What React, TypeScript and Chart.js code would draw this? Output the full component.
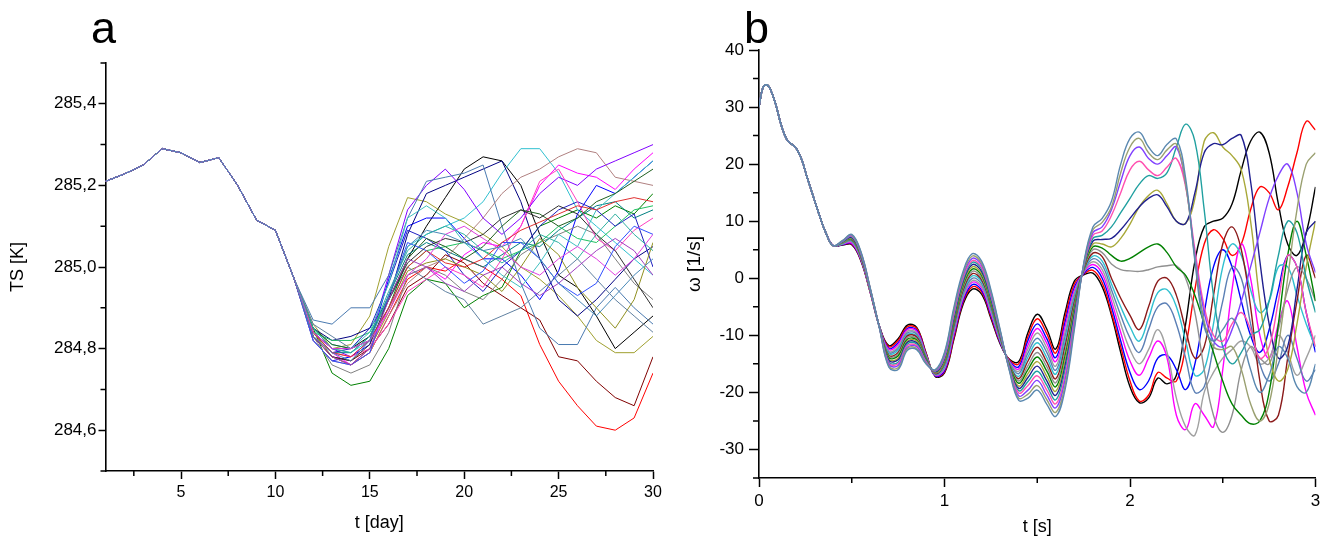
import React, { useEffect, useRef } from 'react';
import { Chart, registerables } from 'chart.js';

Chart.register(...registerables);

const FONT = '"Liberation Sans", Arial, sans-serif';

// ---------------- panel a : TS [K] vs t [day] ----------------
const days = [1, 2, 3, 4, 5, 6, 7, 8, 9, 10, 11, 12, 13, 14, 15, 16, 17, 18, 19, 20, 21, 22, 23, 24, 25, 26, 27, 28, 29, 30];
// days 1..11 (all members practically identical)
const tsStart = [285.21, 285.228, 285.25, 285.29, 285.28, 285.256, 285.268, 285.2, 285.115, 285.09, 284.97];
// days 12..30 per ensemble member
const ts01 = [284.84, 284.80, 284.80, 284.83, 284.92, 285.02, 285.10, 285.17, 285.24, 285.27, 285.26, 285.20, 285.08, 284.98, 284.95, 284.88, 284.80, 284.84, 284.88];
const ts02 = [284.83, 284.78, 284.76, 284.79, 284.88, 284.97, 285.00, 284.99, 285.02, 285.00, 284.97, 284.93, 284.81, 284.72, 284.66, 284.61, 284.60, 284.63, 284.74];
const ts03 = [284.85, 284.74, 284.71, 284.72, 284.80, 284.93, 284.97, 284.96, 284.90, 284.93, 284.95, 285.04, 285.10, 285.12, 285.14, 285.12, 285.15, 285.13, 285.18];
const ts04 = [284.82, 284.77, 284.78, 284.81, 284.97, 285.10, 285.12, 285.12, 285.07, 285.02, 285.02, 284.98, 284.92, 284.99, 285.13, 285.20, 285.18, 285.22, 285.26];
const ts05 = [284.85, 284.80, 284.79, 284.82, 284.93, 285.05, 285.08, 285.10, 285.12, 285.16, 285.23, 285.29, 285.29, 285.23, 285.14, 285.10, 285.06, 285.02, 284.98];
const ts06 = [284.84, 284.79, 284.76, 284.80, 284.90, 284.98, 285.00, 284.97, 285.03, 285.06, 285.05, 285.10, 285.20, 285.25, 285.23, 285.22, 285.19, 285.24, 285.28];
const ts07 = [284.86, 284.80, 284.81, 284.88, 285.05, 285.17, 285.16, 285.13, 285.11, 285.08, 285.05, 285.00, 284.97, 284.93, 284.88, 284.82, 284.79, 284.79, 284.83];
const ts08 = [284.83, 284.78, 284.77, 284.80, 284.86, 284.95, 284.98, 285.03, 285.01, 284.96, 284.93, 284.90, 284.87, 284.78, 284.77, 284.72, 284.68, 284.66, 284.78];
const ts09 = [284.85, 284.82, 284.83, 284.85, 284.92, 285.08, 285.18, 285.20, 285.22, 285.24, 285.26, 285.16, 285.02, 284.92, 284.88, 284.92, 284.97, 285.02, 285.05];
const ts10 = [284.84, 284.80, 284.78, 284.82, 284.98, 285.14, 285.20, 285.24, 285.19, 285.12, 285.08, 285.12, 285.18, 285.22, 285.20, 285.24, 285.26, 285.28, 285.30];
const ts11 = [284.87, 284.86, 284.90, 284.90, 284.98, 285.12, 285.21, 285.22, 285.23, 285.25, 285.10, 284.96, 284.85, 284.81, 284.81, 284.90, 284.95, 284.90, 284.86];
const ts12 = [284.83, 284.76, 284.74, 284.76, 284.84, 284.98, 285.00, 284.98, 284.94, 284.92, 284.97, 285.03, 285.06, 285.08, 285.10, 285.08, 285.02, 284.96, 284.92];
const ts13 = [284.84, 284.79, 284.79, 284.83, 284.93, 285.03, 285.06, 285.04, 285.02, 285.00, 285.03, 285.06, 285.05, 285.09, 285.12, 285.15, 285.16, 285.12, 285.14];
const ts14 = [284.82, 284.77, 284.76, 284.79, 284.88, 284.96, 285.00, 285.02, 285.07, 285.12, 285.18, 285.22, 285.24, 285.27, 285.29, 285.28, 285.22, 285.21, 285.20];
const ts15 = [284.84, 284.82, 284.82, 284.84, 284.92, 285.00, 285.04, 285.05, 285.06, 285.04, 285.02, 285.04, 285.06, 285.10, 285.07, 285.06, 285.10, 285.14, 285.15];
const ts16 = [284.83, 284.79, 284.80, 284.85, 284.96, 285.09, 285.07, 285.04, 284.98, 284.94, 285.00, 285.04, 285.10, 285.14, 285.16, 285.14, 285.10, 285.13, 285.00];
const ts17 = [284.85, 284.81, 284.80, 284.84, 284.96, 285.12, 285.15, 285.12, 285.06, 285.02, 284.98, 284.95, 285.01, 285.08, 285.05, 285.14, 285.18, 285.22, 285.26];
const ts18 = [284.83, 284.79, 284.78, 284.80, 284.86, 284.94, 284.97, 285.00, 284.98, 284.95, 285.02, 285.10, 285.21, 285.24, 285.16, 285.07, 285.04, 285.09, 285.12];
const ts19 = [284.84, 284.78, 284.76, 284.80, 284.89, 284.99, 285.01, 285.02, 285.00, 284.98, 284.94, 285.00, 285.07, 285.03, 284.95, 284.90, 284.85, 284.92, 285.06];
const ts20 = [284.85, 284.81, 284.80, 284.82, 284.90, 285.02, 285.07, 285.05, 285.02, 285.05, 285.10, 285.14, 285.13, 285.10, 285.12, 285.16, 285.18, 285.21, 285.24];
const ts21 = [284.82, 284.77, 284.76, 284.79, 284.93, 285.06, 285.04, 285.00, 284.96, 284.99, 285.06, 285.06, 285.02, 284.96, 284.93, 284.96, 285.05, 285.10, 285.08];
const ts22 = [284.86, 284.83, 284.80, 284.82, 284.90, 285.00, 284.97, 284.94, 284.92, 284.86, 284.88, 284.90, 284.94, 284.98, 285.02, 284.97, 284.92, 284.88, 284.84];
const ts23 = [284.83, 284.78, 284.77, 284.81, 284.92, 285.01, 285.05, 285.07, 285.06, 285.08, 285.12, 285.14, 285.12, 285.15, 285.13, 285.08, 285.04, 284.97, 284.90];
const ts24 = [284.84, 284.79, 284.78, 284.82, 284.90, 285.00, 285.04, 285.01, 285.00, 285.02, 285.06, 285.09, 285.11, 285.13, 285.15, 285.14, 285.16, 285.17, 285.16];
const ts25 = [284.83, 284.78, 284.76, 284.80, 284.92, 285.02, 285.00, 284.96, 284.94, 284.98, 285.00, 284.96, 284.93, 284.96, 285.00, 285.04, 285.07, 285.04, 284.98];
const ts26 = [284.85, 284.80, 284.79, 284.83, 284.94, 285.04, 285.08, 285.10, 285.08, 285.04, 285.01, 285.04, 285.08, 285.06, 285.02, 285.08, 285.13, 285.08, 285.04];
const ts27 = [284.84, 284.80, 284.80, 284.82, 284.89, 284.98, 285.02, 285.08, 285.10, 285.07, 285.04, 285.00, 284.98, 285.02, 285.05, 285.02, 284.98, 285.02, 285.08];
const ts28 = [284.83, 284.79, 284.77, 284.82, 284.93, 285.05, 285.09, 285.08, 285.06, 285.04, 285.05, 285.07, 285.02, 284.96, 284.92, 284.88, 284.93, 284.98, 285.02];

const tsMembers = [ts01, ts02, ts03, ts04, ts05, ts06, ts07, ts08, ts09, ts10, ts11, ts12, ts13, ts14, ts15, ts16, ts17, ts18, ts19, ts20, ts21, ts22, ts23, ts24, ts25, ts26, ts27, ts28];
const tsColors = ['#000000', '#ff0000', '#008000', '#0000ff', '#30c0d0', '#ff00ff', '#a0a030', '#800000', '#000080', '#8000ff', '#4a7ab0', '#808080', '#008080', '#b08080', '#20c060', '#2020c0', '#40c0c0', '#ff40c0', '#909020', '#206020', '#3050ff', '#6080a0', '#303030', '#e03030', '#a040c0', '#30b0a0', '#e040e0', '#4a8ab8'];

const tsTicks = [284.6, 284.8, 285.0, 285.2, 285.4];
const tsMinor = [284.5, 284.7, 284.9, 285.1, 285.3, 285.5];
const dayTicks = [5, 10, 15, 20, 25, 30];
const dayMinor = [2.5, 7.5, 12.5, 17.5, 22.5, 27.5];

// ---------------- panel b : omega [1/s] vs t [s] ----------------
const tStart = [0, 0.02, 0.04, 0.06, 0.09, 0.12, 0.15, 0.18, 0.2, 0.23, 0.26, 0.3, 0.33, 0.36, 0.4];
const wStart = [30, 33.3, 33.9, 33.2, 30.5, 26.8, 24.3, 23.4, 22.8, 20.8, 17.6, 13.6, 10.6, 8.0, 5.7];
const tB = [0.45, 0.5, 0.55, 0.6, 0.65, 0.7, 0.75, 0.8, 0.85, 0.9, 0.95, 1.0, 1.05, 1.1, 1.15, 1.2, 1.25, 1.3, 1.35, 1.4, 1.45, 1.5, 1.55, 1.6, 1.65, 1.7, 1.75, 1.8, 1.85,
  1.9, 1.95, 2.0, 2.05, 2.1, 2.15, 2.2, 2.25, 2.3, 2.35, 2.4, 2.45, 2.5, 2.55, 2.6, 2.65, 2.7, 2.75, 2.8, 2.85, 2.9, 2.95, 3.0];

const w00 = [5.8, 5.9, 3.0, -2.5, -8.5, -11.8, -10.6, -8.2, -8.6, -13.0, -17.2, -16.6, -10.8, -4.6, -1.9, -2.8, -7.0, -11.5, -14.2, -14.6, -9.5, -6.3, -8.8, -12.4, -6.0, -0.5, 0.6, 0.9, -1.5,
  -6.5, -13, -19, -21.8, -21, -17.5, -18.5, -17, -8, 3, 9, 10, 10.5, 13, 19, 24, 25.6, 22, 13, 6, 4, 8, 16];
const w01 = [5.9, 6.0, 3.1, -2.5, -8.5, -12.0, -10.9, -8.5, -8.8, -13.1, -17.1, -16.4, -10.5, -4.2, -1.5, -2.4, -6.7, -11.3, -14.3, -15.0, -10.2, -7.1, -9.6, -13.1, -6.8, -1.0, 0.7, 1.4, -0.8,
  -6, -12, -18, -21.5, -20.5, -16.5, -17.5, -18, -12, -2, 6, 8.5, 7, 4, 6, 12, 16, 15, 12, 16, 22, 27.5, 26];
const w02 = [5.9, 6.1, 3.2, -2.4, -8.5, -12.3, -11.3, -8.8, -9.1, -13.3, -17.1, -16.2, -10.1, -3.9, -1.1, -2.1, -6.4, -11.2, -14.5, -15.5, -10.9, -8.0, -10.5, -13.9, -7.7, -1.6, 0.8, 1.9, 0.0,
  -5, -11, -16.5, -19.5, -18, -14, -13.5, -16, -19.5, -15, -6, 2, 5, 2, -4, -10, -13, -9, -2, 4, 2, -6, -13];
const w03 = [6.0, 6.2, 3.3, -2.4, -8.6, -12.5, -11.6, -9.0, -9.3, -13.4, -17.0, -15.9, -9.8, -3.5, -0.7, -1.7, -6.1, -11.0, -14.6, -15.9, -11.7, -8.8, -11.3, -14.6, -8.5, -2.1, 1.0, 2.4, 0.8,
  -4, -9.5, -14.5, -17, -14, -11, -14, -24, -26.5, -22, -24, -26, -16, -2, 6, 0, -10, -14, -8, -4, -12, -20, -24];
const w04 = [6.0, 6.4, 3.4, -2.3, -8.6, -12.8, -12.0, -9.3, -9.6, -13.5, -16.9, -15.7, -9.4, -3.2, -0.4, -1.4, -5.8, -10.9, -14.7, -16.3, -12.4, -9.6, -12.1, -15.4, -9.4, -2.6, 1.1, 2.9, 1.5,
  -3, -8, -12.5, -15, -12.5, -9, -13, -21, -26, -27.5, -20, -16.5, -14, -12.5, -11, -12, -15, -14, -10, -13, -17, -14, -10];
const w05 = [6.1, 6.5, 3.5, -2.3, -8.6, -13.0, -12.3, -9.6, -9.8, -13.6, -16.8, -15.5, -9.1, -2.8, 0.0, -1.0, -5.4, -10.7, -14.8, -16.7, -13.1, -10.5, -12.9, -16.1, -10.2, -3.2, 1.2, 3.4, 2.3,
  -2, -6.5, -10.5, -13, -9, -5, -4.5, -8, -14, -20, -19, -12, -4, 2, 0, -8, -15, -18, -15, -10, -14, -18, -16];
const w06 = [6.1, 6.6, 3.6, -2.2, -8.6, -13.2, -12.6, -9.9, -10.1, -13.8, -16.8, -15.3, -8.7, -2.4, 0.4, -0.6, -5.1, -10.6, -15.0, -17.2, -13.8, -11.3, -13.8, -16.8, -11.1, -3.7, 1.3, 3.9, 3.0,
  -1, -5, -8.5, -11, -7, -2.5, -2, -5, -11, -17, -16, -8, 2, 6, 4, -2, -6, -4, 2, 2, -3, -8, -12];
const w07 = [6.2, 6.7, 3.7, -2.2, -8.6, -13.5, -13.0, -10.1, -10.3, -13.9, -16.7, -15.0, -8.4, -2.1, 0.8, -0.3, -4.8, -10.4, -15.1, -17.6, -14.5, -12.1, -14.6, -17.6, -11.9, -4.2, 1.4, 4.4, 3.8,
  0, -3.5, -6.5, -9, -5, -0.5, 0, -3, -9, -14, -12, -3, 6, 9, 5, -5, -18, -25, -24, -14, -4, 4, 0];
const w08 = [6.2, 6.8, 3.8, -2.2, -8.7, -13.7, -13.3, -10.4, -10.6, -14.0, -16.6, -14.8, -8.0, -1.7, 1.2, 0.1, -4.5, -10.3, -15.2, -18.0, -15.3, -13.0, -15.4, -18.3, -12.8, -4.8, 1.6, 5.0, 4.5,
  2.5, 1.5, 1.3, 1.2, 1.5, 2, 2.2, 2.2, 0, -6, -16, -24, -27, -24, -16, -12, -14, -15, -9, -2, 2, 0, -4];
const w09 = [6.3, 6.9, 3.9, -2.1, -8.7, -13.9, -13.6, -10.7, -10.8, -14.1, -16.5, -14.6, -7.7, -1.3, 1.6, 0.5, -4.2, -10.1, -15.3, -18.4, -16.0, -13.8, -16.2, -19.0, -13.6, -5.3, 1.7, 5.5, 5.3,
  4, 3, 3.5, 4.5, 5.5, 6, 4.5, 2, 0.5, -3, -8, -13, -18, -22, -24, -25.5, -25, -20, -8, 4, 10, 4, -4];
const w10 = [6.3, 7.0, 4.0, -2.1, -8.7, -14.2, -14.0, -11.0, -11.0, -14.3, -16.5, -14.4, -7.3, -1.0, 2.0, 0.8, -3.9, -9.9, -15.5, -18.9, -16.7, -14.6, -17.1, -19.8, -14.4, -5.8, 1.8, 6.0, 6.0,
  5.5, 7, 9.5, 12.5, 14.5, 15.4, 13, 10, 9.6, 14, 24, 25.5, 23, 21.5, 19, 10, -4, -14, -18, -16, -8, 2, 10];
const w11 = [6.4, 7.1, 4.1, -2.0, -8.7, -14.4, -14.3, -11.2, -11.3, -14.4, -16.4, -14.1, -7.0, -0.6, 2.4, 1.2, -3.6, -9.8, -15.6, -19.3, -17.4, -15.4, -17.9, -20.5, -15.3, -6.3, 1.9, 6.5, 6.8,
  7, 8.5, 10.5, 12.5, 14, 14.6, 12.5, 10, 9.6, 15, 22, 23.6, 23.4, 24.5, 25, 17, 3, -8, -14, -12, -2, 8, 10];
const w12 = [6.4, 7.3, 4.2, -2.0, -8.7, -14.7, -14.7, -11.5, -11.5, -14.5, -16.3, -13.9, -6.6, -0.3, 2.8, 1.6, -3.3, -9.6, -15.7, -19.7, -18.1, -16.3, -18.7, -21.3, -16.1, -6.9, 2.0, 7.0, 7.5,
  9, 11.5, 14, 16.5, 18, 17.5, 18.5, 23, 27, 24, 12, -3, -12, -15, -13, -10, -9, -4, 4, 10, 8, 0, -6];
const w13 = [6.5, 7.4, 4.3, -1.9, -8.7, -14.9, -15.0, -11.8, -11.8, -14.6, -16.2, -13.7, -6.3, 0.1, 3.1, 1.9, -2.9, -9.5, -15.8, -20.1, -18.8, -17.1, -19.5, -22.0, -17.0, -7.4, 2.1, 7.5, 8.3,
  11, 15, 19, 20.5, 19, 18, 19.5, 21, 16, 5, -5, -10, -11, -8, -6, -9, -14, -12, -4, 4, 2, -6, -12];
const w14 = [6.5, 7.5, 4.4, -1.9, -8.8, -15.1, -15.3, -12.1, -12.0, -14.8, -16.2, -13.5, -5.9, 0.5, 3.5, 2.3, -2.6, -9.3, -16.0, -20.6, -19.6, -17.9, -20.4, -22.7, -17.8, -7.9, 2.3, 8.0, 9.0,
  12, 17, 21.5, 23, 21, 20, 21.5, 23, 16.5, 4, -6, -11, -12, -9, -4, 2, 8, 14, 18, 20, 15, 6, 1];
const w15 = [6.6, 7.6, 4.5, -1.8, -8.8, -15.4, -15.7, -12.3, -12.3, -14.9, -16.1, -13.2, -5.6, 0.8, 3.9, 2.6, -2.3, -9.2, -16.1, -21.0, -20.3, -18.8, -21.2, -23.5, -18.7, -8.5, 2.4, 8.5, 9.8,
  12.5, 18.5, 23, 24.5, 22, 20.8, 22.5, 23.5, 16.5, 3.5, -7.5, -12, -12.5, -12, -16, -22, -25, -22, -12, 0, 12, 20, 22];
const w16 = [6.6, 7.7, 4.6, -1.8, -8.8, -15.6, -16.0, -12.6, -12.5, -15.0, -16.0, -13.0, -5.2, 1.2, 4.3, 3.0, -2.0, -9.0, -16.2, -21.4, -21.0, -19.6, -22.0, -24.2, -19.5, -9.0, 2.5, 9.0, 10.5,
  13.5, 20, 24.5, 25.6, 23, 21.5, 23.5, 24.4, 17.5, 3, -8.5, -11, -9, -7, -10, -16, -20, -17, -12, -14, -19, -20, -15];

const wMembers = [w00, w01, w02, w03, w04, w05, w06, w07, w08, w09, w10, w11, w12, w13, w14, w15, w16];
const wColors = ['#000000', '#ff0000', '#0000ff', '#ff00ff', '#a0a0a0', '#5b7fb5', '#30c0d0', '#8b1a1a', '#909090', '#008000', '#a8a838', '#202090', '#20a0a0', '#ff50b0', '#8040ff', '#9aa070', '#5a88b0'];

const wTicks = [-30, -20, -10, 0, 10, 20, 30, 40];
const wMinor = [-35, -25, -15, -5, 5, 15, 25, 35];
const sTicks = [0, 1, 2, 3];
const sMinor = [0.5, 1.5, 2.5];

// ---------------- helpers ----------------
const minorTickPlugin = {
  id: 'minorTicks',
  afterDraw(chart: any, _args: any, opts: any) {
    const ctx = chart.ctx;
    const xs = chart.scales.x;
    const ys = chart.scales.y;
    const area = chart.chartArea;
    ctx.save();
    ctx.strokeStyle = '#000';
    ctx.lineWidth = opts.lineWidth;
    ctx.beginPath();
    (opts.x || []).forEach((v: number) => {
      const px = xs.getPixelForValue(v);
      ctx.moveTo(px, area.bottom);
      ctx.lineTo(px, area.bottom + opts.xLen);
    });
    (opts.y || []).forEach((v: number) => {
      const py = ys.getPixelForValue(v);
      ctx.moveTo(area.left, py);
      ctx.lineTo(area.left - opts.yLen, py);
    });
    ctx.stroke();
    ctx.restore();
  },
};

function axisCommon(tickLen: number) {
  return {
    grid: { display: true, drawOnChartArea: false, drawTicks: true, tickLength: tickLen, tickColor: '#000', tickWidth: 1.5 },
    border: { display: true, color: '#000', width: 1.6 },
  };
}

function buildA(): any {
  const n = tsMembers.length;
  const datasets = tsMembers.map((tail, i) => ({
    label: 'm' + (i + 1),
    data: days.map((d, j) => ({ x: d, y: j < tsStart.length ? tsStart[j] : tail[j - tsStart.length] })),
    borderColor: tsColors[i % tsColors.length],
    borderWidth: 1,
    pointRadius: 0,
    tension: 0,
    fill: false,
    order: n - i,
  }));
  return {
    type: 'line',
    data: { datasets },
    plugins: [minorTickPlugin],
    options: {
      animation: false,
      responsive: false,
      devicePixelRatio: 1,
      layout: { padding: { left: 0, top: 63, right: 27, bottom: 0 } },
      plugins: {
        legend: { display: false },
        tooltip: { enabled: false },
        minorTicks: { x: dayMinor, y: tsMinor, xLen: 5, yLen: 5, lineWidth: 1.5 },
      },
      scales: {
        x: {
          type: 'linear', min: 1, max: 30,
          afterBuildTicks: (s: any) => { s.ticks = dayTicks.map((v) => ({ value: v })); },
          afterFit: (s: any) => { s.height = 72; },
          ...axisCommon(8),
          ticks: { color: '#000', font: { family: FONT, size: 16 }, padding: 4, maxRotation: 0, autoSkip: false, callback: (v: any) => String(v) },
          title: { display: true, text: 't [day]', color: '#000', font: { family: FONT, size: 18 }, padding: { top: 4, bottom: 9 } },
        },
        y: {
          type: 'linear', min: 284.5, max: 285.5,
          afterBuildTicks: (s: any) => { s.ticks = tsTicks.map((v) => ({ value: v })); },
          afterFit: (s: any) => { s.width = 105.5; },
          ...axisCommon(7),
          ticks: { color: '#000', font: { family: FONT, size: 17 }, padding: 2, autoSkip: false, callback: (v: any) => Number(v).toFixed(1).replace('.', ',') },
          title: { display: true, text: 'TS [K]', color: '#000', font: { family: FONT, size: 18 }, padding: { top: 7, bottom: 0 } },
        },
      },
    },
  };
}

function buildB(): any {
  const n = wMembers.length;
  const datasets = wMembers.map((vals, i) => ({
    label: 'w' + i,
    data: tStart.map((t, j) => ({ x: t, y: wStart[j] })).concat(tB.map((t, j) => ({ x: t, y: vals[j] }))),
    borderColor: wColors[i % wColors.length],
    borderWidth: 1.4,
    pointRadius: 0,
    tension: 0.4,
    fill: false,
    order: n - i,
  }));
  return {
    type: 'line',
    data: { datasets },
    plugins: [minorTickPlugin],
    options: {
      animation: false,
      responsive: false,
      devicePixelRatio: 1,
      layout: { padding: { left: 0, top: 50, right: 10.5, bottom: 0 } },
      plugins: {
        legend: { display: false },
        tooltip: { enabled: false },
        minorTicks: { x: sMinor, y: wMinor, xLen: 5, yLen: 6, lineWidth: 1.5 },
      },
      scales: {
        x: {
          type: 'linear', min: 0, max: 3,
          afterBuildTicks: (s: any) => { s.ticks = sTicks.map((v) => ({ value: v })); },
          afterFit: (s: any) => { s.height = 65; },
          ...axisCommon(9),
          ticks: { color: '#000', font: { family: FONT, size: 17 }, padding: 4, maxRotation: 0, autoSkip: false, callback: (v: any) => String(v) },
          title: { display: true, text: 't [s]', color: '#000', font: { family: FONT, size: 18 }, padding: { top: 4, bottom: 5 } },
        },
        y: {
          type: 'linear', min: -35, max: 40,
          afterBuildTicks: (s: any) => { s.ticks = wTicks.map((v) => ({ value: v })); },
          afterFit: (s: any) => { s.width = 79; },
          ...axisCommon(10),
          ticks: { color: '#000', font: { family: FONT, size: 17 }, padding: 5, autoSkip: false, callback: (v: any) => String(v) },
          title: { display: true, text: 'ω [1/s]', color: '#000', font: { family: FONT, size: 19 }, padding: { top: 3, bottom: 0 } },
        },
      },
    },
  };
}

export default function App() {
  const refA = useRef<HTMLCanvasElement>(null);
  const refB = useRef<HTMLCanvasElement>(null);

  useEffect(() => {
    const a = new Chart(refA.current as HTMLCanvasElement, buildA());
    const b = new Chart(refB.current as HTMLCanvasElement, buildB());
    return () => {
      a.destroy();
      b.destroy();
    };
  }, []);

  const letter: React.CSSProperties = {
    position: 'absolute',
    fontFamily: FONT,
    fontSize: 45,
    lineHeight: '45px',
    color: '#000',
    margin: 0,
  };

  return (
    <div style={{ position: 'absolute', left: 0, top: 0, width: 1326, height: 543, background: '#fff', overflow: 'hidden' }}>
      <canvas ref={refA} width={680} height={543} style={{ position: 'absolute', left: 0, top: 0 }} />
      <canvas ref={refB} width={646} height={543} style={{ position: 'absolute', left: 680, top: 0 }} />
      <div style={{ ...letter, left: 91, top: 5 }}>a</div>
      <div style={{ ...letter, left: 744, top: 5 }}>b</div>
    </div>
  );
}
